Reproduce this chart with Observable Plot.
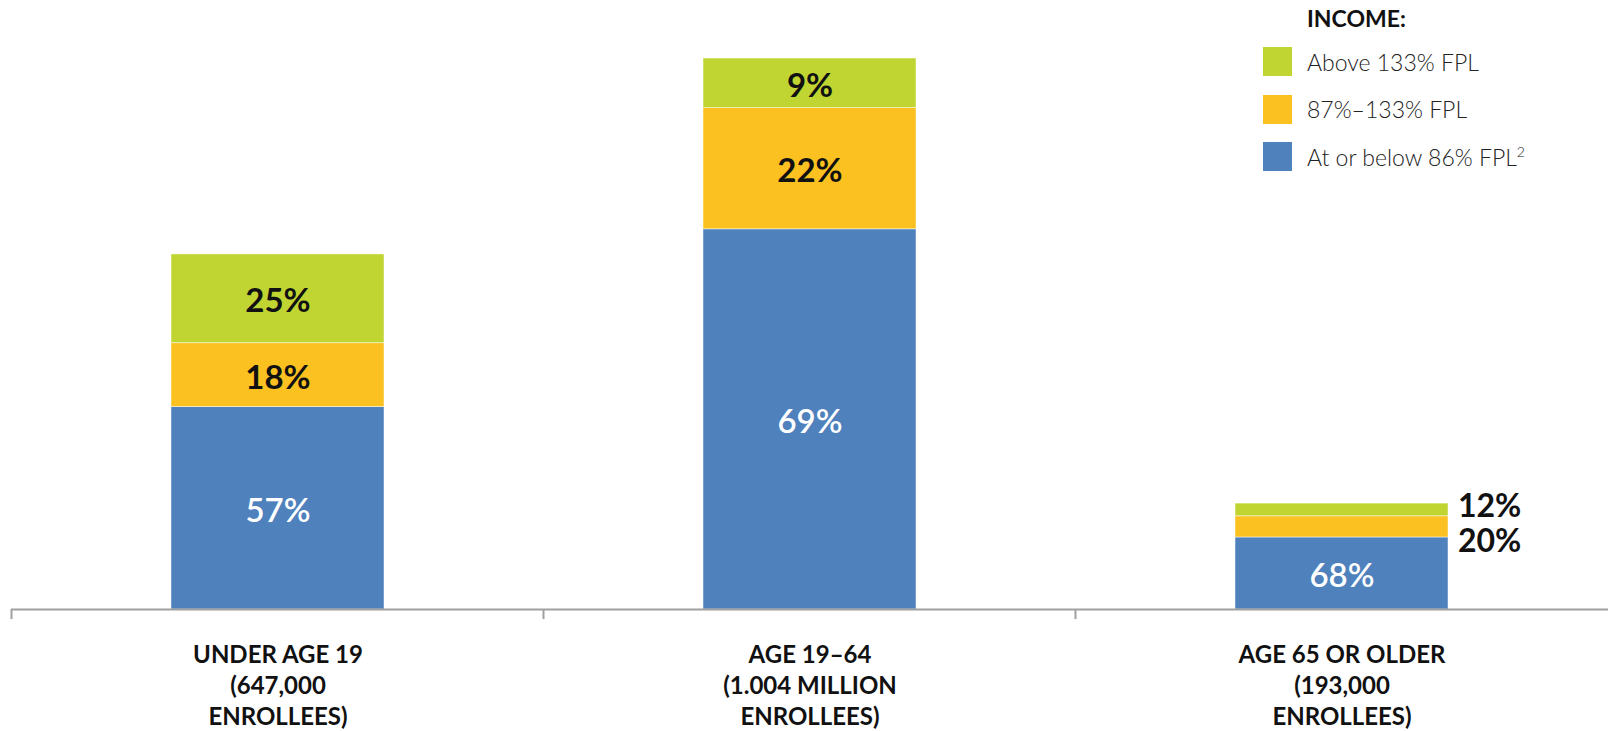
<!DOCTYPE html>
<html>
<head>
<meta charset="utf-8">
<script src="https://cdn.jsdelivr.net/npm/d3@7"></script>
<script src="https://cdn.jsdelivr.net/npm/@observablehq/plot@0.6"></script>
<style>
  html, body { margin: 0; padding: 0; background: #fff; }
  #wrap { position: relative; width: 1608px; height: 731px; overflow: hidden; font-family: Lato, "Open Sans", sans-serif; }
  #legend { position: absolute; left: 1263px; top: 0; color: #222; }
  #legend .title { position: absolute; left: 44px; top: 4px; font-weight: 700; font-size: 23px; white-space: nowrap; color: #111; }
  #legend .row { position: absolute; left: 0; height: 29px; display: flex; align-items: center; white-space: nowrap; }
  #legend .sw { width: 29px; height: 29px; margin-right: 15px; flex: none; }
  #legend .lab { font-size: 23px; font-weight: 300; color: #222; }
  #legend sup { font-size: 14px; vertical-align: 9px; line-height: 0; }
</style>
</head>
<body>
<div id="wrap">
  <div id="chart"></div>
  <div id="legend"></div>
</div>
<script>
// ---- data ----
const categories = [
  "UNDER AGE 19\n(647,000\nENROLLEES)",
  "AGE 19–64\n(1.004 MILLION\nENROLLEES)",
  "AGE 65 OR OLDER\n(193,000\nENROLLEES)"
];
const enrollees = [647, 1004, 193]; // thousands
const incomeGroups = ["At or below 86% FPL", "87%–133% FPL", "Above 133% FPL"]; // bottom to top
const legendOrder = ["Above 133% FPL", "87%–133% FPL", "At or below 86% FPL"];
const belowPct = [57, 69, 68];
const midPct = [18, 22, 20];
const abovePct = [25, 9, 12];
const colors = ["#4f81bd", "#fbc120", "#c0d532"];

// ---- table ----
const pcts = [belowPct, midPct, abovePct];
const data = [];
categories.forEach((c, i) => {
  incomeGroups.forEach((g, j) => {
    data.push({age: c, group: g, pct: pcts[j][i], value: enrollees[i] * pcts[j][i] / 100, small: enrollees[i] < 300});
  });
});

const stackOpts = (extra) => Plot.stackY({x: "age", y: "value", z: "group", order: incomeGroups, ...extra});

const plot = Plot.plot({
  width: 1608,
  height: 731,
  marginLeft: 11,
  marginRight: 0,
  marginTop: 58,
  marginBottom: 122,
  style: {fontFamily: "Lato, 'Open Sans', sans-serif", background: "white"},
  x: {domain: categories, paddingInner: 0.6, paddingOuter: 0.3, label: null},
  y: {domain: [0, 1004], axis: null},
  color: {domain: incomeGroups, range: colors},
  marks: [
    Plot.barY(data, stackOpts({fill: "group", stroke: "white", strokeWidth: 0.8, strokeOpacity: 0.6})),
    // labels inside bars (dark)
    Plot.text(data, stackOpts({
      text: d => (!d.small && d.group !== incomeGroups[0]) ? d.pct + "%" : null,
      fill: "#111", fontSize: 33, fontWeight: 700, dy: 3
    })),
    // labels inside blue segments (white)
    Plot.text(data, stackOpts({
      text: d => d.group === incomeGroups[0] ? d.pct + "%" : null,
      fill: "white", fontSize: 33, fontWeight: 600, dy: 3
    })),
    // outside labels for the small bar
    Plot.text(data, stackOpts({
      text: d => (d.small && d.group === incomeGroups[2]) ? d.pct + "%" : null,
      fill: "#111", fontSize: 32, fontWeight: 700, textAnchor: "start", dx: 116, dy: -3
    })),
    Plot.text(data, stackOpts({
      text: d => (d.small && d.group === incomeGroups[1]) ? d.pct + "%" : null,
      fill: "#111", fontSize: 32, fontWeight: 700, textAnchor: "start", dx: 116, dy: 15
    })),
    Plot.ruleY([0], {stroke: "#a0a0a0", strokeWidth: 2}),
    Plot.axisX({
      tickSize: 0, tickPadding: 31, fontSize: 24, fontWeight: 700, lineHeight: 1.3,
      fill: "#111", label: null
    })
  ]
});

document.getElementById("chart").appendChild(plot);

// band boundary ticks derived from the x scale
const xs = plot.scale("x");
const ys = plot.scale("y");
const y0 = ys.apply(0);
const gap = (xs.step - xs.bandwidth) / 2;
d3.select(plot).append("g")
  .attr("stroke", "#a0a0a0").attr("stroke-width", 2)
  .selectAll("line")
  .data(categories)
  .join("line")
  .attr("x1", d => xs.apply(d) - gap)
  .attr("x2", d => xs.apply(d) - gap)
  .attr("y1", y0)
  .attr("y2", y0 + 10);

// legend
const legend = d3.select("#legend");
legend.append("div").attr("class", "title").text("INCOME:");
legendOrder.forEach((g, i) => {
  const row = legend.append("div").attr("class", "row").style("top", (47 + i * 47.5) + "px");
  row.append("div").attr("class", "sw").style("background", colors[incomeGroups.indexOf(g)]);
  const lab = row.append("div").attr("class", "lab").text(g);
  if (g === "At or below 86% FPL") lab.append("sup").text("2");
});
</script>
</body>
</html>
